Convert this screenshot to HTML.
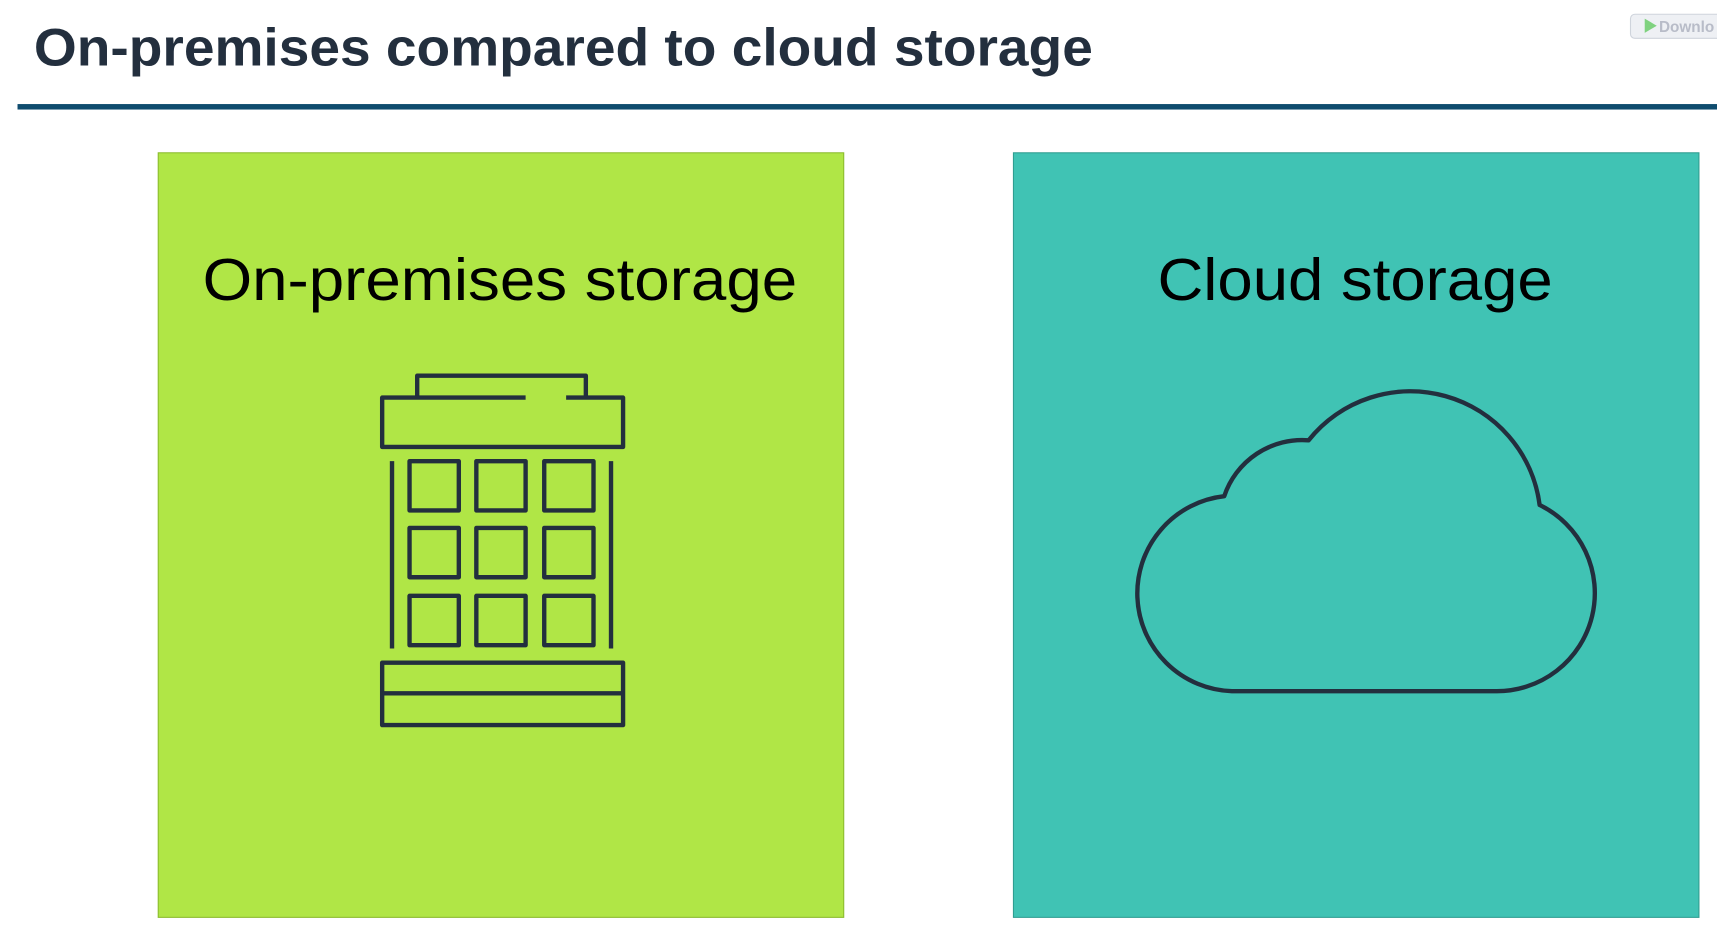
<!DOCTYPE html>
<html><head><meta charset="utf-8"><style>
html,body{margin:0;padding:0;background:#fff;width:1717px;height:942px;overflow:hidden}
svg{display:block}
</style></head><body>
<svg width="1717" height="942" viewBox="0 0 1568 860" preserveAspectRatio="none" xmlns="http://www.w3.org/2000/svg">
<rect width="1568" height="860" fill="#fff"/>
<text x="31" y="60" textLength="967" lengthAdjust="spacingAndGlyphs" font-family="Liberation Sans, sans-serif" font-weight="bold" font-size="48" fill="#232f3e">On-premises compared to cloud storage</text>
<rect x="16" y="95" width="1552" height="5" fill="#0f4c6e"/>
<rect x="1489" y="13" width="85" height="22" rx="4" fill="#eef0f4" stroke="#cfd4dc"/>
<polygon points="1502,17 1502,30 1513,23.5" fill="#7fd27f"/>
<text x="1515" y="29" font-family="Liberation Sans, sans-serif" font-weight="bold" font-size="14" fill="#b8bcc8">Downlo</text>
<rect x="144.5" y="139.5" width="626" height="698" fill="#b0e646" stroke="#8cbc2e"/>
<rect x="925.5" y="139.5" width="626" height="698" fill="#40c3b4" stroke="#2f9e91"/>
<text x="185" y="274" textLength="543" lengthAdjust="spacingAndGlyphs" font-family="Liberation Sans, sans-serif" font-size="54" fill="#000">On-premises storage</text>
<text x="1057" y="274" textLength="361" lengthAdjust="spacingAndGlyphs" font-family="Liberation Sans, sans-serif" font-size="54" fill="#000">Cloud storage</text>
<g fill="none" stroke="#232f3e" stroke-width="4" stroke-linejoin="round">
<path d="M381,362 V343 H535 V362"/>
<path d="M480,363 H349 V408 H569 V363 H517"/>
<rect x="374" y="421" width="45" height="45"/><rect x="435" y="421" width="45" height="45"/><rect x="497" y="421" width="45" height="45"/>
<rect x="374" y="482" width="45" height="45"/><rect x="435" y="482" width="45" height="45"/><rect x="497" y="482" width="45" height="45"/>
<rect x="374" y="544" width="45" height="45"/><rect x="435" y="544" width="45" height="45"/><rect x="497" y="544" width="45" height="45"/>
<path d="M358,421 V592 M558,421 V592"/>
<rect x="349" y="605" width="220" height="57"/>
<path d="M349,633 H569"/>
<path d="M1125,631 H1365 A89.5,89.5 0 0 0 1406,461 A119,119 0 0 0 1195,402 A75,75 0 0 0 1118,453 A89.3,89.3 0 0 0 1125,631 Z"/>
</g>
</svg>
</body></html>
